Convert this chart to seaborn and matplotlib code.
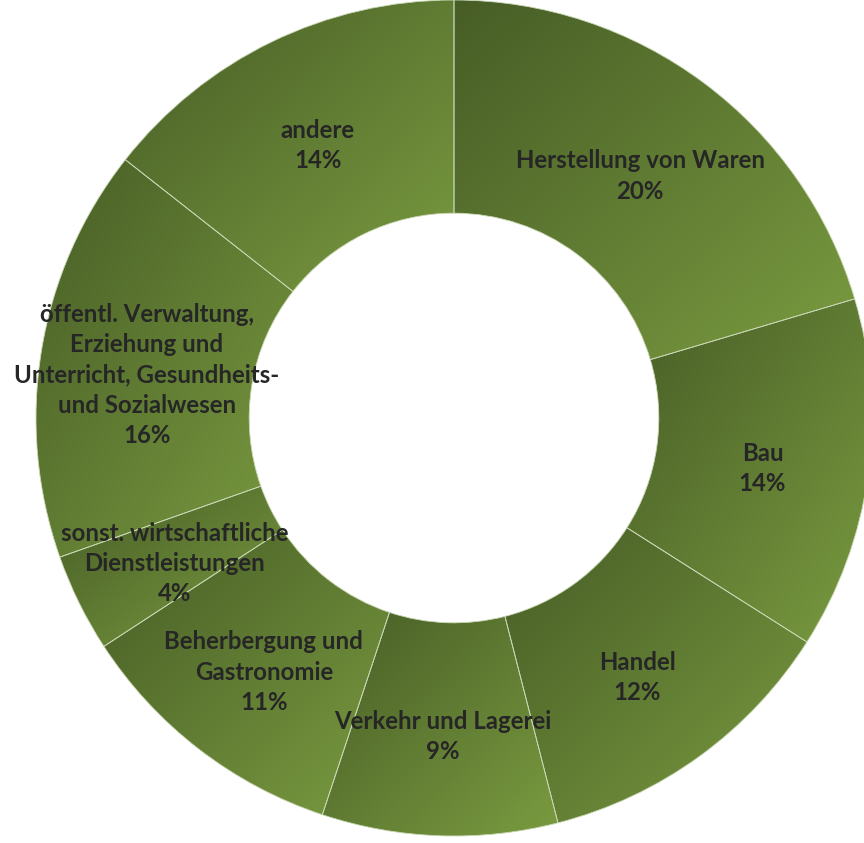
import numpy as np
import matplotlib
matplotlib.use("Agg")
import matplotlib.pyplot as plt
import seaborn as sns

# ==========================================
# DATA
# ==========================================

categories = [
    "Herstellung von Waren",
    "Bau",
    "Handel",
    "Verkehr und Lagerei",
    "Beherbergung und\nGastronomie",
    "sonst. wirtschaftliche\nDienstleistungen",
    "öffentl. Verwaltung,\nErziehung und\nUnterricht, Gesundheits-\nund Sozialwesen",
    "andere",
]
shares = [20.4, 13.6, 12.0, 9.1, 10.7, 3.8, 16.0, 14.4]
pct_labels = ["20%", "14%", "12%", "9%", "11%", "4%", "16%", "14%"]

# ==========================================
# STYLE
# ==========================================

sns.set_theme(style="white")
plt.rcParams["font.family"] = ["Lato", "DejaVu Sans"]

green_cmap = sns.blend_palette(["#475d26", "#7a9b40"], as_cmap=True)

fig = plt.figure(figsize=(8.64, 8.43), dpi=100)
ax = fig.add_axes([0, 0, 1, 1])

labels = [f"{c}\n{p}" for c, p in zip(categories, pct_labels)]

wedges, texts = ax.pie(
    shares,
    labels=labels,
    startangle=90,
    counterclock=False,
    radius=1.0,
    labeldistance=0.745,
    wedgeprops=dict(width=0.51, edgecolor="#c9d8b4", linewidth=0.6),
    textprops=dict(fontsize=17.3, fontweight="bold", color="#262626"),
)

# diagonal gradient in every slice, dark top-left to light bottom-right
n = 200
g = (np.arange(n)[None, :] + np.arange(n)[:, None]) / (2 * (n - 1))
for w in wedges:
    w.set_facecolor("none")
    bb = w.get_path().get_extents()
    im = ax.imshow(
        g,
        cmap=green_cmap,
        extent=[bb.x0, bb.x1, bb.y0, bb.y1],
        origin="upper",
        interpolation="bilinear",
        zorder=0.5,
    )
    im.set_clip_path(w)

for t in texts:
    x, y = t.get_position()
    t.set_position((x, y - 0.018))
    t.set_horizontalalignment("center")
    t.set_verticalalignment("center")
    t.set_multialignment("center")
    t.set_linespacing(1.38)
    t.set_zorder(5)

ax.set_xlim(-454 / 418, 410 / 418)
ax.set_ylim(-425 / 418, 1.0)
ax.set_aspect("equal")
ax.axis("off")

fig.savefig("out.png", dpi=100)
